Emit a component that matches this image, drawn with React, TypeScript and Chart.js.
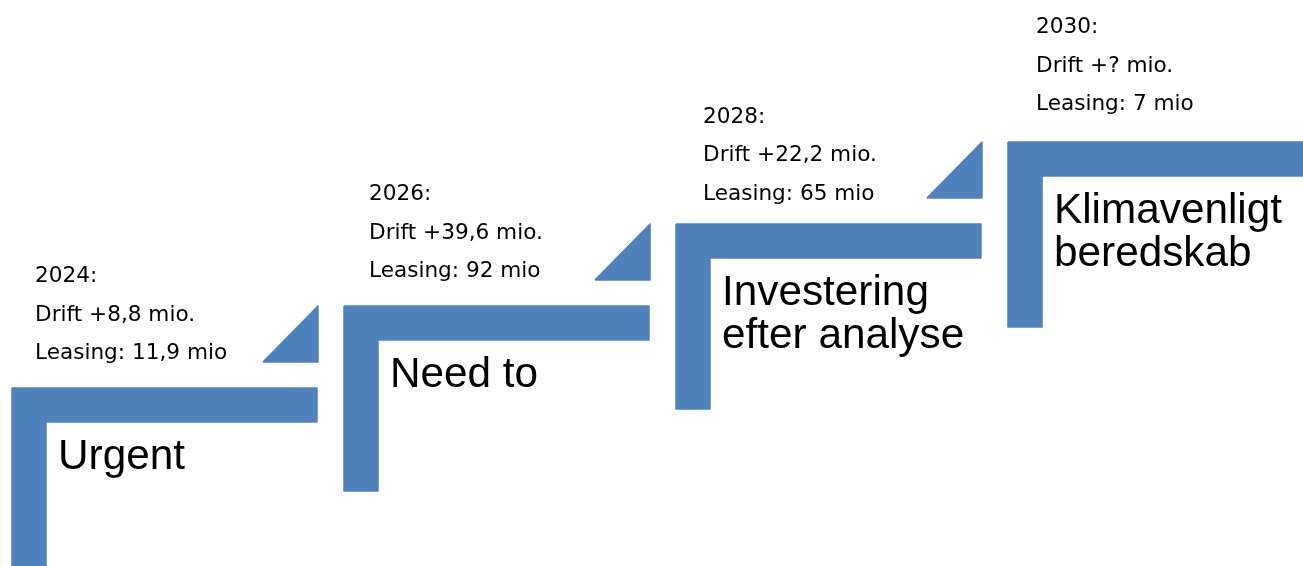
import React, { useEffect, useRef } from "react";
import { Chart, registerables } from "chart.js";

Chart.register(...registerables);

// ---- data ----
const years = ["2024", "2026", "2028", "2030"];
const driftValues = ["+8,8", "+39,6", "+22,2", "+?"];
const leasingValues = ["11,9", "92", "65", "7"];
const stepLabels = [
  ["Urgent"],
  ["Need to"],
  ["Investering", "efter analyse"],
  ["Klimavenligt", "beredskab"],
];
const hasArrow = [true, true, true, false];

// ---- layout (diagram units) ----
const W = 1303;
const H = 566;
const STEP_X0 = 12;
const STEP_DX = 332;
const TOP0 = 388;
const STEP_DY = 82;
const ARM = 305;
const THICK = 34;
const LEG = 185;
const BLUE = "#4F81BD";
const INFO_X = [35, 369, 703, 1036];
const INFO_OFFSET = [106, 106, 101.5, 109];
const INFO_LINE = 38.5;

function stepOrigin(i: number) {
  return { x: STEP_X0 + STEP_DX * i, y: TOP0 - STEP_DY * i };
}

function lShape(i: number) {
  const { x, y } = stepOrigin(i);
  return [
    { x, y },
    { x: x + ARM, y },
    { x: x + ARM, y: y + THICK },
    { x: x + THICK, y: y + THICK },
    { x: x + THICK, y: y + LEG },
    { x, y: y + LEG },
    { x, y },
  ];
}

function triangle(i: number) {
  const { x, y } = stepOrigin(i);
  const r = x + ARM + 1;
  return [
    { x: r - 55, y: y - 26 },
    { x: r, y: y - 26 },
    { x: r, y: y - 82 },
    { x: r - 55, y: y - 26 },
  ];
}

const textPlugin = {
  id: "stepText",
  afterDatasetsDraw(chart: any) {
    const ctx = chart.ctx;
    const xs = chart.scales.x;
    const ys = chart.scales.y;
    ctx.save();
    ctx.fillStyle = "#000000";
    ctx.textAlign = "left";
    ctx.textBaseline = "alphabetic";
    years.forEach((yr, i) => {
      const { x, y } = stepOrigin(i);
      const infoLines = [
        yr + ":",
        "Drift " + driftValues[i] + " mio.",
        "Leasing: " + leasingValues[i] + " mio",
      ];
      ctx.font = "21.6px 'DejaVu Sans'";
      infoLines.forEach((ln, k) => {
        ctx.fillText(
          ln,
          xs.getPixelForValue(INFO_X[i]),
          ys.getPixelForValue(y - INFO_OFFSET[i] + INFO_LINE * k)
        );
      });
      ctx.font = "42.3px 'Liberation Sans', Arial";
      stepLabels[i].forEach((ln, k) => {
        ctx.fillText(ln, xs.getPixelForValue(x + 46), ys.getPixelForValue(y + 81 + 43 * k));
      });
    });
    ctx.restore();
  },
};

export default function App() {
  const ref = useRef<HTMLCanvasElement | null>(null);
  useEffect(() => {
    if (!ref.current) return;
    const datasets: any[] = [];
    years.forEach((_, i) => {
      datasets.push({
        data: lShape(i),
        fill: "shape",
        backgroundColor: BLUE,
        borderColor: BLUE,
        borderWidth: 1.5,
        borderJoinStyle: "round",
        pointRadius: 0,
        tension: 0,
      });
      if (hasArrow[i]) {
        datasets.push({
          data: triangle(i),
          fill: "shape",
          backgroundColor: BLUE,
          borderColor: BLUE,
          borderWidth: 1.5,
          borderJoinStyle: "round",
          pointRadius: 0,
          tension: 0,
        });
      }
    });
    const chart = new Chart(ref.current, {
      type: "line",
      data: { datasets },
      options: {
        animation: false,
        responsive: true,
        maintainAspectRatio: false,
        events: [],
        layout: { padding: 0 },
        plugins: { legend: { display: false }, tooltip: { enabled: false } },
        scales: {
          x: { type: "linear", min: 0, max: W, display: false },
          y: { type: "linear", min: 0, max: H, reverse: true, display: false },
        },
      },
      plugins: [textPlugin],
    });
    return () => chart.destroy();
  }, []);
  return (
    <div style={{ position: "fixed", left: 0, top: 0, width: W, height: H, background: "#ffffff" }}>
      <canvas ref={ref} />
    </div>
  );
}
